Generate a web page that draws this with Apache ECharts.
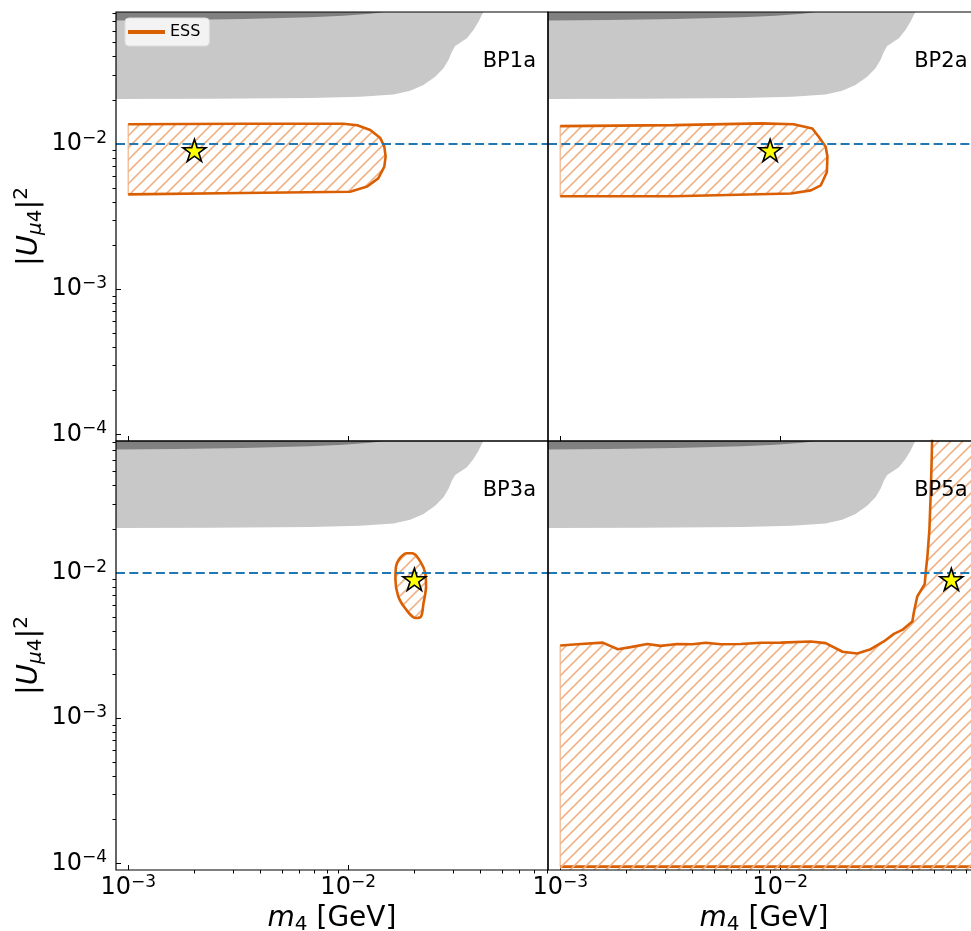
<!DOCTYPE html>
<html><head><meta charset="utf-8">
<script src="https://cdn.jsdelivr.net/npm/echarts@6/dist/echarts.min.js"></script>
<style>html,body{margin:0;padding:0;background:#fff}#c{width:971px;height:931px}</style>
</head><body><div id="c"></div>
<script>
// ---------------- data ----------------
const xMin = 0.00088, xMax = 0.081;
const yMin = 0.00009, yMax = 0.0813;
const xMajorTicks = [0.001, 0.01];
const xMajorExp = ['−3', '−2'];
const xMinorTicks = [0.002,0.003,0.004,0.005,0.006,0.007,0.008,0.009,0.02,0.03,0.04,0.05,0.06,0.07,0.08];
const yMajorTicks = [0.0001, 0.001, 0.01];
const yMajorExp = ['−4', '−3', '−2'];
const yMinorTicks = [0.0002,0.0003,0.0004,0.0005,0.0006,0.0007,0.0008,0.0009,0.002,0.003,0.004,0.005,0.006,0.007,0.008,0.009,0.02,0.03,0.04,0.05,0.06,0.07,0.08];
const refCoupling = 0.01;
const panelNames = ['BP1a', 'BP2a', 'BP3a', 'BP5a'];
const benchmarkMass = [0.002, 0.009, 0.02, 0.06];
const benchmarkCoupling = [0.0092, 0.0092, 0.0092, 0.0092];
const excludedTop = 0.1;
const grayLightBoundary = [[0.0008,0.0204],[0.00236,0.0205],[0.00672,0.0208],[0.01134,0.0212],[0.01607,0.0220],[0.01914,0.0233],[0.022,0.0255],[0.02486,0.0291],[0.02712,0.0333],[0.02857,0.0380],[0.02961,0.0433],[0.03064,0.0474],[0.03229,0.0500],[0.03463,0.0536],[0.03711,0.0611],[0.03911,0.0697],[0.04121,0.0817],[0.0445,0.1]];
const grayDarkBoundary = [[0.0008,0.0708],[0.00167,0.0716],[0.00334,0.0728],[0.00672,0.0748],[0.00952,0.0767],[0.0126,0.0792],[0.015,0.0817],[0.0165,0.1]];
const essBP1a = [[0.001,0.0137],[0.0033,0.0138],[0.0095,0.0138],[0.011,0.0135],[0.0126,0.0125],[0.014,0.011],[0.0146,0.0096],[0.0148,0.0082],[0.0146,0.0070],[0.0137,0.0058],[0.0122,0.0051],[0.0102,0.0047],[0.0033,0.0046],[0.001,0.0045]];
const essBP2a = [[0.001,0.0133],[0.0033,0.0135],[0.0082,0.0139],[0.0115,0.0137],[0.0140,0.0128],[0.0150,0.0112],[0.0161,0.0096],[0.0164,0.0082],[0.0163,0.0064],[0.0153,0.0052],[0.0138,0.0048],[0.0112,0.00457],[0.0033,0.00437],[0.001,0.00437]];
const essBP3a = [[0.0182,0.0137],[0.0196,0.0137],[0.0213,0.0120],[0.0224,0.0100],[0.0226,0.0081],[0.0220,0.0062],[0.0214,0.0050],[0.0202,0.0049],[0.0182,0.0057],[0.0169,0.0069],[0.0164,0.0090],[0.0165,0.0111],[0.0172,0.0127],[0.0182,0.0137]];
const essBP5a = [[0.001,0.00317],[0.00124,0.00325],[0.00156,0.00332],[0.00183,0.00299],[0.00209,0.00309],[0.00249,0.00325],[0.00286,0.00315],[0.00341,0.00325],[0.00399,0.00323],[0.00459,0.00331],[0.00536,0.00323],[0.00661,0.00325],[0.00815,0.00331],[0.01005,0.00332],[0.01376,0.00338],[0.0161,0.00329],[0.0192,0.00287],[0.0224,0.00279],[0.0258,0.00299],[0.0296,0.00338],[0.0329,0.00381],[0.0359,0.00406],[0.0399,0.00464],[0.0406,0.00543],[0.0420,0.0069],[0.0454,0.0084],[0.0460,0.0105],[0.0467,0.0130],[0.0477,0.0199],[0.0483,0.0337],[0.0488,0.0574],[0.0492,0.1]];
const bp5aFloor = 0.000095;
const bp5aRightEdge = 0.2;
const bp5aRegionBottom = 0.00008;
const essContours = [essBP1a, essBP2a, essBP3a, essBP5a];

// ---------------- style ----------------
const FONT = 'DejaVu Sans';
const ORANGE = '#d95f02';
const HATCH = '#f0b388';
const LIGHT_GRAY = '#c8c8c8';
const DARK_GRAY = '#808080';
const BLUE = '#1f77b4';
const STAR = 'path://M50,0 L61.23,34.55 L97.55,34.55 L68.17,55.9 L79.39,90.45 L50,69.1 L20.61,90.45 L31.83,55.9 L2.45,34.55 L38.77,34.55 Z';

function makeHatch() {
  const s = 12;
  const c = document.createElement('canvas');
  c.width = s; c.height = s;
  const g = c.getContext('2d');
  g.strokeStyle = HATCH; g.lineWidth = 1.6; g.lineCap = 'butt';
  [0, s, 2 * s].forEach(k => { g.beginPath(); g.moveTo(-2, k + 2); g.lineTo(k + 2, -2); g.stroke(); });
  return c;
}
const hatchPattern = { image: makeHatch(), repeat: 'repeat' };

const grids = [
  { left: 116, top: 12, width: 432, height: 429 },
  { left: 548, top: 12, width: 432, height: 429 },
  { left: 116, top: 441, width: 432, height: 429 },
  { left: 548, top: 441, width: 432, height: 429 }
];

function expFormatter(ticks, exps) {
  return function (v) {
    let best = 0, bd = Infinity;
    ticks.forEach((t, j) => { const d = Math.abs(Math.log10(v) - Math.log10(t)); if (d < bd) { bd = d; best = j; } });
    return '10{sup|' + exps[best] + '}';
  };
}
const supRich = { sup: { fontFamily: FONT, fontSize: 17, lineHeight: 17, verticalAlign: 'top', color: '#000' } };
const nameRichX = {
  i: { fontFamily: FONT, fontStyle: 'italic', fontSize: 28, lineHeight: 32, color: '#000' },
  sub: { fontFamily: FONT, fontSize: 20, lineHeight: 20, verticalAlign: 'bottom', color: '#000' }
};
const nameRichY = {
  i: { fontFamily: FONT, fontStyle: 'italic', fontSize: 29, lineHeight: 34, color: '#000' },
  subi: { fontFamily: FONT, fontStyle: 'italic', fontSize: 20, lineHeight: 20, verticalAlign: 'bottom', color: '#000' },
  sub: { fontFamily: FONT, fontSize: 20, lineHeight: 20, verticalAlign: 'bottom', color: '#000' },
  sup: { fontFamily: FONT, fontSize: 20, lineHeight: 20, verticalAlign: 'top', color: '#000' }
};

const xAxes = [], yAxes = [];
grids.forEach((g, i) => {
  const bottomRow = i >= 2, leftCol = i % 2 === 0;
  xAxes.push({
    type: 'log', gridIndex: i, min: xMin, max: xMax, position: 'bottom',
    axisLine: { show: false }, splitLine: { show: false },
    axisTick: { show: true, inside: true, length: 5, customValues: xMajorTicks, lineStyle: { color: '#000', width: 1 } },
    axisLabel: { show: bottomRow, customValues: xMajorTicks, margin: 4, formatter: expFormatter(xMajorTicks, xMajorExp),
      fontFamily: FONT, fontSize: 24, lineHeight: 28, color: '#000', rich: supRich },
    name: bottomRow ? '{i|m}{sub|4} [GeV]' : '', nameLocation: 'middle', nameGap: 32,
    nameTextStyle: { fontFamily: FONT, fontSize: 28, lineHeight: 32, color: '#000', rich: nameRichX }
  });
  xAxes.push({
    type: 'log', gridIndex: i, min: xMin, max: xMax, position: 'bottom', offset: 0,
    axisLine: { show: false }, splitLine: { show: false }, axisLabel: { show: false },
    axisTick: { show: bottomRow, inside: false, length: 3.5, customValues: xMinorTicks, lineStyle: { color: '#000', width: 1 } }
  });
  yAxes.push({
    type: 'log', gridIndex: i, min: yMin, max: yMax, position: 'left',
    axisLine: { show: false }, splitLine: { show: false },
    axisTick: { show: leftCol, inside: true, length: 5, customValues: yMajorTicks, lineStyle: { color: '#000', width: 1 } },
    axisLabel: { show: leftCol, customValues: yMajorTicks, margin: 9, formatter: expFormatter(yMajorTicks, yMajorExp),
      fontFamily: FONT, fontSize: 24, lineHeight: 28, color: '#000', rich: supRich },
    name: leftCol ? '|{i|U}{subi|μ}{sub|4}|{sup|2}' : '', nameLocation: 'middle', nameRotate: 90, nameGap: 70,
    nameTextStyle: { fontFamily: FONT, fontSize: 29, lineHeight: 34, color: '#000', rich: nameRichY }
  });
  yAxes.push({
    type: 'log', gridIndex: i, min: yMin, max: yMax, position: 'left', offset: 0,
    axisLine: { show: false }, splitLine: { show: false }, axisLabel: { show: false },
    axisTick: { show: leftCol, inside: false, length: 3.5, customValues: yMinorTicks, lineStyle: { color: '#000', width: 1 } }
  });
});

function polygonSeries(i, points, style, z) {
  return {
    type: 'custom', coordinateSystem: 'cartesian2d', xAxisIndex: 2 * i, yAxisIndex: 2 * i,
    clip: true, silent: true, z: z, data: [points[0]],
    renderItem: function (params, api) {
      if (params.dataIndex !== 0) return;
      return { type: 'polygon', shape: { points: points.map(p => api.coord(p)) }, style: style };
    }
  };
}

const series = [];
grids.forEach((g, i) => {
  const lightRegion = grayLightBoundary.concat([[grayLightBoundary[0][0], excludedTop]]);
  const darkRegion = grayDarkBoundary.concat([[grayDarkBoundary[0][0], excludedTop]]);
  series.push(polygonSeries(i, lightRegion, { fill: LIGHT_GRAY }, 1));
  series.push(polygonSeries(i, darkRegion, { fill: DARK_GRAY }, 2));
  const contour = essContours[i];
  if (i < 3) {
    series.push(polygonSeries(i, contour, { fill: hatchPattern, stroke: HATCH, lineWidth: 1.2 }, 3));
  } else {
    const last = contour[contour.length - 1];
    const region = [[contour[0][0], bp5aRegionBottom]].concat(contour, [[bp5aRightEdge, last[1]], [bp5aRightEdge, bp5aRegionBottom]]);
    series.push({
      type: 'line', xAxisIndex: 2 * i, yAxisIndex: 2 * i, silent: true, symbol: 'none', z: 2.5,
      data: [[contour[0][0], bp5aFloor], [bp5aRightEdge, bp5aFloor]],
      lineStyle: { color: ORANGE, width: 2.6 }
    });
    series.push(polygonSeries(i, region, { fill: hatchPattern }, 3));
    series.push({
      type: 'line', xAxisIndex: 2 * i, yAxisIndex: 2 * i, silent: true, symbol: 'none', z: 3.5,
      data: [[contour[0][0], bp5aFloor], contour[0]],
      lineStyle: { color: HATCH, width: 1.2 }
    });
  }
  series.push({
    name: 'ESS', type: 'line', xAxisIndex: 2 * i, yAxisIndex: 2 * i, silent: true,
    symbol: 'none', showSymbol: false, z: 5, clip: true, data: contour, smooth: i === 2 ? 0.35 : false,
    itemStyle: { color: ORANGE }, lineStyle: { color: ORANGE, width: 2.6 }
  });
  series.push({
    type: 'line', xAxisIndex: 2 * i, yAxisIndex: 2 * i, silent: true, symbol: 'none', z: 6,
    data: [[xMin, refCoupling], [xMax, refCoupling]],
    lineStyle: { color: BLUE, width: 2, type: [9, 4.3] }
  });
  series.push({
    type: 'scatter', xAxisIndex: 2 * i, yAxisIndex: 2 * i, silent: true, z: 8,
    data: [[benchmarkMass[i], benchmarkCoupling[i]]],
    symbol: STAR, symbolSize: [23, 22], symbolOffset: [0, 1],
    itemStyle: { color: '#ffff00', borderColor: '#000', borderWidth: 1.6, opacity: 1 }
  });
});

const chart = echarts.init(document.getElementById('c'), null, { renderer: 'canvas', width: 971, height: 931 });
chart.setOption({
  animation: false,
  backgroundColor: '#fff',
  grid: grids.map(g => Object.assign({ show: true, borderColor: '#000', borderWidth: 1.2, backgroundColor: 'rgba(0,0,0,0)', z: 10, containLabel: false, outerBoundsMode: 'none' }, g)),
  title: panelNames.map((n, i) => ({
    text: n, right: (i % 2 === 0) ? 435 : 3.5, top: i < 2 ? 51 : 480, padding: 0,
    textStyle: { fontFamily: FONT, fontSize: 21, fontWeight: 'normal', color: '#000' }
  })),
  legend: {
    data: ['ESS'], left: 125, top: 18, icon: 'rect', itemWidth: 37, itemHeight: 4,
    padding: [6, 9, 6, 3], backgroundColor: '#f3f3f3', borderColor: '#dcdcdc', borderWidth: 1, borderRadius: 4,
    selectedMode: false, textStyle: { fontFamily: FONT, fontSize: 16, color: '#000' }
  },
  xAxis: xAxes,
  yAxis: yAxes,
  series: series
});
</script>
</body></html>
